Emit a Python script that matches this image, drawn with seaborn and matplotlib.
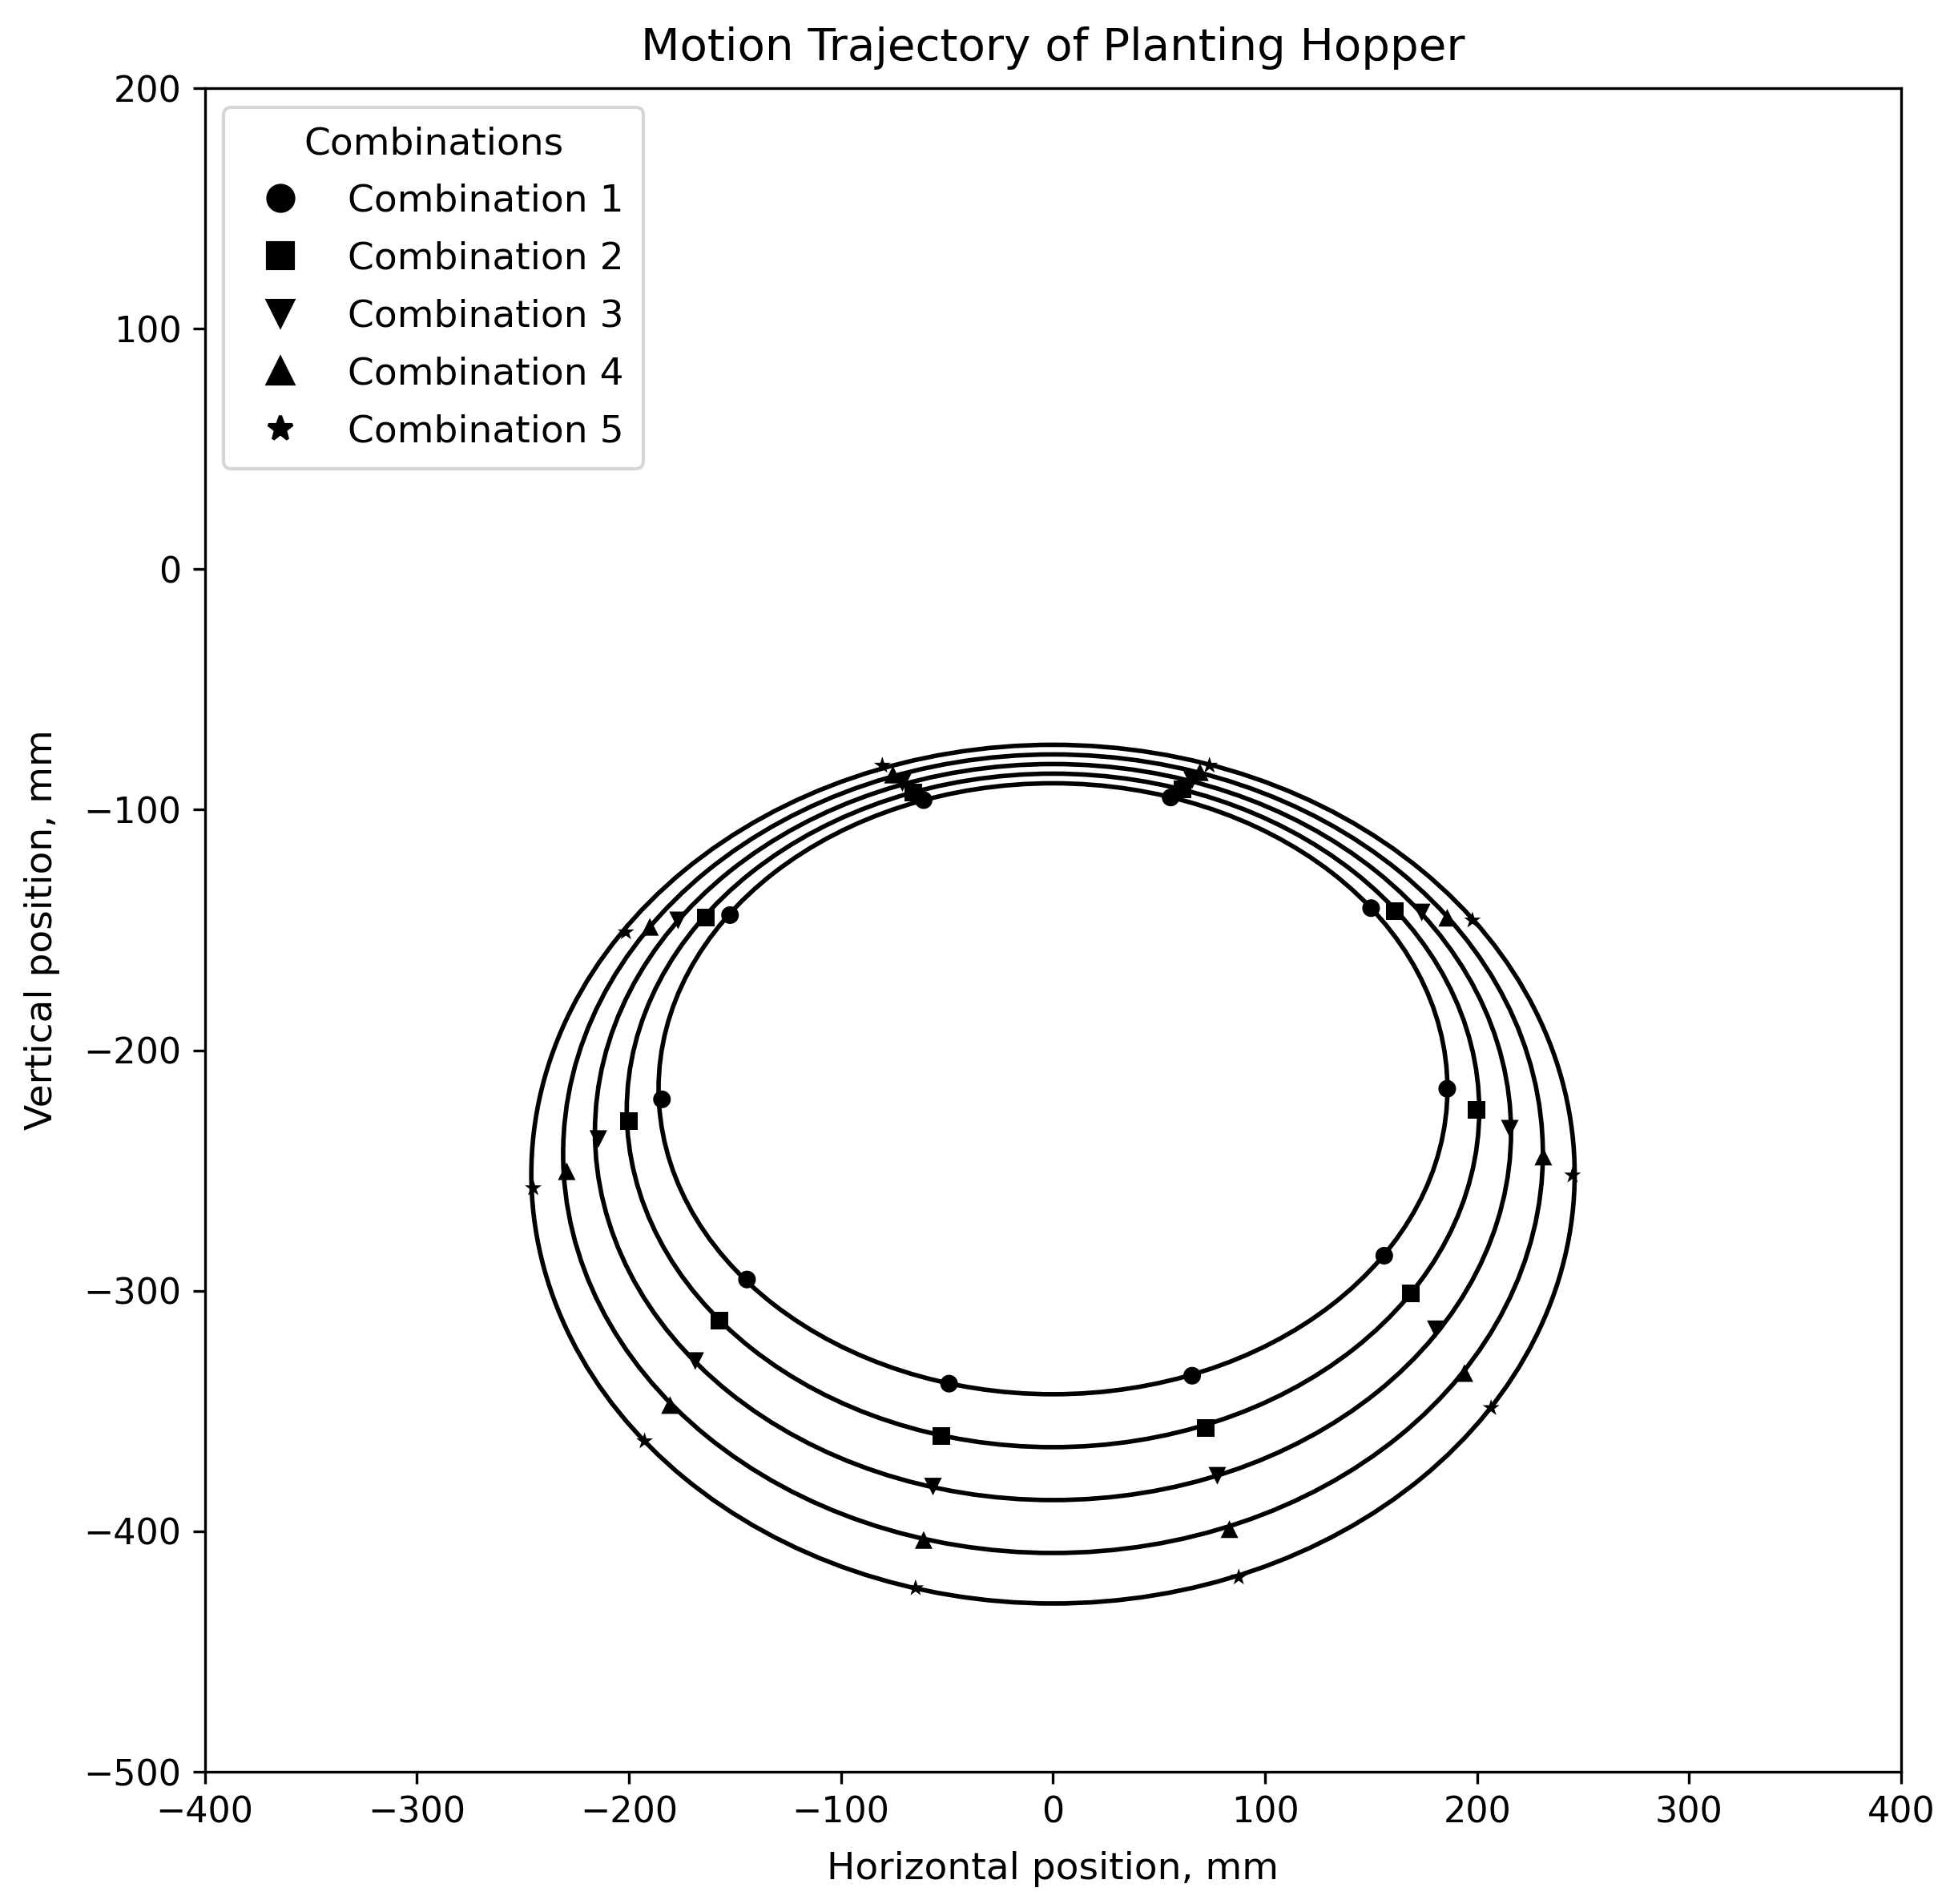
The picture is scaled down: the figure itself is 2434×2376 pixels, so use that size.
import pandas as pd
import matplotlib
matplotlib.use("Agg")
import matplotlib.pyplot as plt
from matplotlib.patches import Ellipse
from matplotlib.lines import Line2D
import seaborn as sns

# -----------------------------
# Data
# -----------------------------

combos = ["Combination 1", "Combination 2", "Combination 3",
          "Combination 4", "Combination 5"]
marker_shapes = ["o", "s", "v", "^", "*"]

# extents of each closed trajectory, mm
path_left = [-186, -201, -216, -231, -246]
path_right = [186, 201, 216, 231, 246]
path_top = [-89, -85, -81, -77, -73]
path_bottom = [-343, -365, -387, -409, -430]

# sampled hopper positions (markers), mm
c1_x = [-61.0, 55.5, -152.3, 150.0, -184.4, 185.9, -144.3, 156.2, -49.0, 65.6]
c1_y = [-96.0, -94.9, -143.8, -140.9, -220.4, -216.0, -295.3, -285.4, -338.6, -335.3]

c2_x = [-66.0, 61.2, -163.6, 161.3, -199.9, 199.7, -157.3, 168.9, -52.8, 71.9]
c2_y = [-92.7, -91.6, -144.9, -142.1, -229.3, -224.8, -312.5, -301.0, -360.3, -357.0]

c3_x = [-71.0, 65.6, -176.8, 173.9, -214.4, 215.4, -168.7, 180.5, -56.6, 77.5]
c3_y = [-88.8, -87.7, -146.0, -142.7, -236.9, -232.6, -329.2, -316.0, -381.4, -376.9]

c4_x = [-75.5, 69.3, -190.1, 185.9, -229.3, 231.2, -180.6, 194.0, -61.0, 83.2]
c4_y = [-85.4, -84.4, -148.7, -144.9, -250.3, -244.2, -347.5, -334.2, -403.6, -399.1]

c5_x = [-80.5, 73.8, -201.4, 197.8, -245.1, 245.0, -192.6, 206.6, -64.8, 87.6]
c5_y = [-81.6, -81.6, -150.9, -146.0, -257.3, -252.0, -362.5, -348.7, -423.6, -419.1]

# -----------------------------
# Build frame
# -----------------------------

xs = [c1_x, c2_x, c3_x, c4_x, c5_x]
ys = [c1_y, c2_y, c3_y, c4_y, c5_y]

rows = []
for name, x_vals, y_vals in zip(combos, xs, ys):
    for x, y in zip(x_vals, y_vals):
        rows.append({"x": x, "y": y, "Combination": name})
df = pd.DataFrame(rows)

# -----------------------------
# Plot
# -----------------------------

plt.rcParams["font.family"] = ["DejaVu Sans"]

fig, ax = plt.subplots(figsize=(2434 / 300, 2376 / 300), dpi=300)
fig.subplots_adjust(left=0.105, right=0.975, top=0.9537, bottom=0.0694)

for left, right, top, bottom in zip(path_left, path_right, path_top, path_bottom):
    ax.add_patch(
        Ellipse(
            ((left + right) / 2, (top + bottom) / 2),
            width=right - left,
            height=top - bottom,
            fill=False,
            edgecolor="black",
            linewidth=1.35,
            zorder=2
        )
    )

sns.scatterplot(
    data=df,
    x="x",
    y="y",
    style="Combination",
    markers=dict(zip(combos, marker_shapes)),
    color="black",
    edgecolor="black",
    linewidth=0,
    s=28,
    zorder=3,
    legend=False,
    ax=ax
)

handles = [
    Line2D([], [], linestyle="", marker=m, color="black", markersize=7.7)
    for m in marker_shapes
]

ax.legend(
    handles,
    combos,
    title="Combinations",
    loc="upper left",
    fontsize=11.3,
    title_fontsize=11.3,
    labelspacing=0.57,
    borderpad=0.5
)

ax.set_xlim(-400, 400)
ax.set_ylim(-500, 200)
ax.tick_params(labelsize=10.7)

ax.set_title("Motion Trajectory of Planting Hopper", fontsize=13.5, pad=8.5)
ax.set_xlabel("Horizontal position, mm", fontsize=11.3, labelpad=6.5)
ax.set_ylabel("Vertical position, mm", fontsize=11.3, labelpad=7)

plt.savefig("out.png", dpi=300)
plt.close()
